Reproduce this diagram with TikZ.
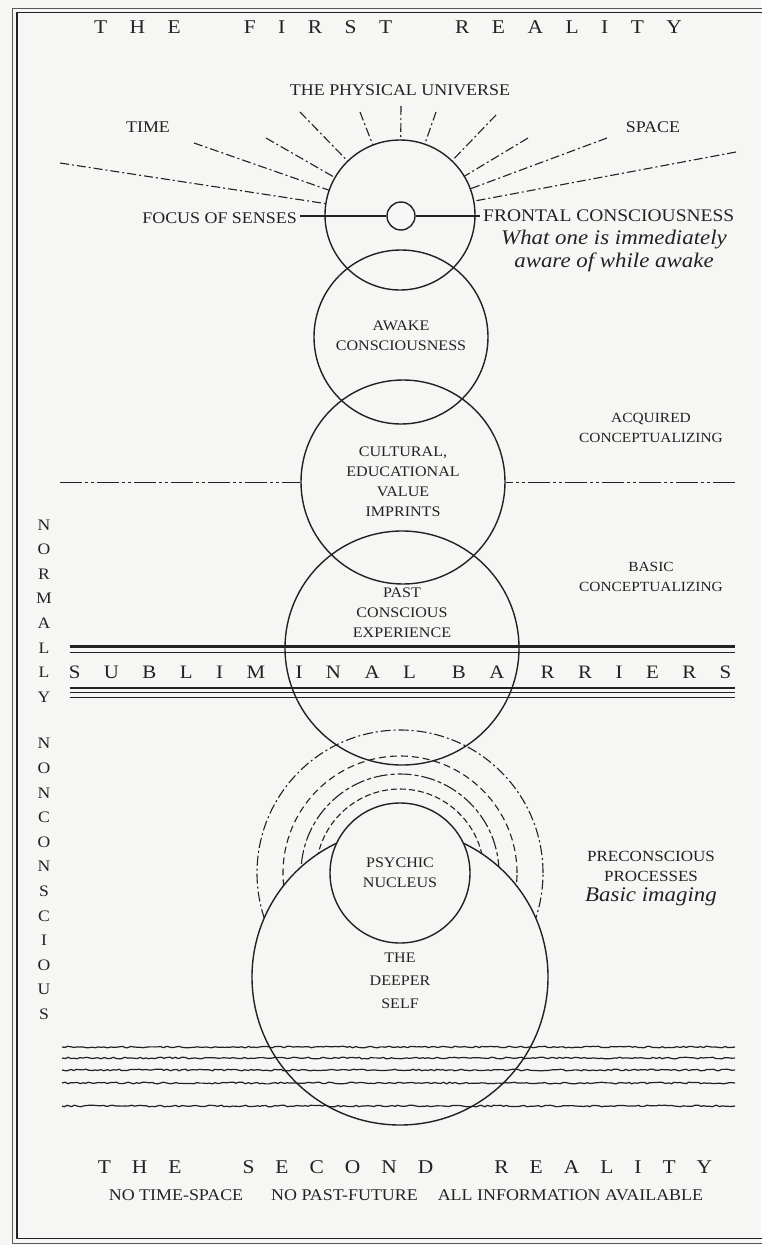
\documentclass[tikz,border=0pt]{standalone}
\usepackage{fontspec}
\setmainfont{Liberation Serif}[FakeStretch=1.1]
\usetikzlibrary{calc,decorations.pathmorphing}
\definecolor{ink}{HTML}{222222}
\definecolor{paper}{HTML}{F6F6F4}
\newcommand\lsg{\hspace{22.5pt}}
\newcommand\lsG{\hspace{63pt}}
\newcommand\lsh{\hspace{21pt}}
\newcommand\lsH{\hspace{61pt}}
\newcommand\lsb{\hspace{23.5pt}}
\newcommand\lsB{\hspace{36pt}}
\begin{document}
\begin{tikzpicture}[x=1pt,y=-1pt,line join=round,
  every node/.style={text=ink, inner sep=0pt},
  circ/.style={circle, draw=ink, line width=1.4pt, inner sep=0pt},
  ray/.style={draw=ink, line width=1.1pt, dash pattern=on 9pt off 3pt on 2pt off 3pt},
  hdash/.style={draw=ink, line width=1.0pt, dash pattern=on 22pt off 3pt on 3pt off 3pt on 3pt off 3pt},
  solidln/.style={draw=ink, line width=1.3pt},
  wavy/.style={draw=ink, line width=1.2pt, decorate, decoration={random steps, segment length=3pt, amplitude=0.85pt}},
  ttl/.style={font=\fontsize{19.5}{21}\selectfont},
  toplbl/.style={font=\fontsize{16.3}{19}\selectfont, align=center},
  inlbl/.style={font=\fontsize{14.6}{20}\selectfont, align=center},
  rlbl/.style={font=\fontsize{14}{20}\selectfont, align=center},
  itl/.style={font=\fontsize{20.8}{23}\selectfont\itshape, align=center},
  sub/.style={font=\fontsize{19}{21}\selectfont},
  vert/.style={font=\fontsize{16}{24.6}\selectfont, align=center}
]
\useasboundingbox (0,0) rectangle (761,1245);
\fill[paper] (0,0) rectangle (761,1245);
% frame
\draw[ink!75, line width=0.9pt] (12,8) rectangle (790,1243);
\draw[ink, line width=1.5pt] (17,12.5) rectangle (785,1238.5);

% titles
\node[ttl] (t1) at (388,27) {T\lsg H\lsg E\lsG F\lsg I\lsg R\lsg S\lsg T\lsG R\lsg E\lsg A\lsg L\lsg I\lsg T\lsg Y};
\node[toplbl] (phys) at (400,90) {THE PHYSICAL UNIVERSE};
\node[toplbl] (time) at (148,127) {TIME};
\node[toplbl] (space) at (653,127) {SPACE};

% top circle and rays
\node[circ, minimum size=150pt] (top) at (400,215) {};
\foreach \sx/\sy in {60/163, 194/143, 266/138, 300/112, 360/112, 401/106, 436/112, 496/115, 528/138, 607/138, 736/152}
  \draw[ray] (\sx,\sy) -- ($(top)!75pt!(\sx,\sy)$);

\node[toplbl, anchor=east] (focus) at (297,218) {FOCUS OF SENSES};
\node[toplbl, font=\fontsize{17.7}{19}\selectfont, anchor=west] (front) at (483,216) {FRONTAL CONSCIOUSNESS};
\node[itl] (what) at (614,251) {What one is immediately\\aware of while awake};
\node[circ, fill=paper, minimum size=28pt] (sc) at (401,216) {};
\draw[solidln] (focus.east |- sc.west) ++(3,0) -- (sc.west);
\draw[solidln] (sc.east) -- ($(front.west |- sc.east)+(-3,0)$);

% stacked circles
\node[circ, minimum size=174pt] (awake) at (401,337) {};
\node[inlbl] (awaket) at (401,336) {AWAKE\\CONSCIOUSNESS};
\node[circ, minimum size=204pt] (cult) at (403,482) {};
\node[inlbl] (cultt) at (403,482) {CULTURAL,\\EDUCATIONAL\\VALUE\\IMPRINTS};
\coordinate (hl) at (60,482);
\coordinate (hr) at (735,482);
\draw[hdash] (hl) -- (cult.west);
\draw[hdash] (hr) -- (cult.east);
\node[rlbl] (acq) at (651,428) {ACQUIRED\\CONCEPTUALIZING};

% subliminal barriers
\draw[ink, line width=2.2pt] (70,646.5) -- (735,646.5);
\draw[ink, line width=0.9pt] (70,652) -- (735,652);
\draw[ink, line width=1.2pt] (70,688) -- (735,688);
\draw[ink, line width=1.8pt] (70,692.5) -- (735,692.5);
\draw[ink, line width=1.2pt] (70,697.5) -- (735,697.5);
\node[sub] (sb1) at (167,672) {S\lsb U\lsb B\lsb L\lsb I\lsb M};
\node[sub] (sb2) at (400,672) {I\lsb N\lsb A\lsb L\lsB B\lsb A};
\node[sub] (sb3) at (636,672) {R\lsb R\lsb I\lsb E\lsb R\lsb S};

\node[circ, minimum size=234pt] (past) at (402,648) {};
\node[inlbl] (pastt) at (402,613) {PAST\\CONSCIOUS\\EXPERIENCE};
\node[rlbl] (basic) at (651,577) {BASIC\\CONCEPTUALIZING};

% dashed arcs around psychic nucleus
\coordinate (pc) at (400,873);
\draw[ink, line width=1.1pt, dash pattern=on 10pt off 3pt on 2pt off 3pt] (pc) circle[radius=143pt];
\draw[ink, line width=1.1pt, dash pattern=on 7pt off 4pt] (pc) circle[radius=117pt];
\draw[ink, line width=1.1pt, dash pattern=on 14pt off 3pt on 4pt off 3pt] (pc) circle[radius=99pt];
\draw[ink, line width=1.1pt, dash pattern=on 6pt off 3pt] (pc) circle[radius=84pt];

\node[circ, fill=paper, minimum size=296pt] (deep) at (400,977) {};
\node[circ, fill=paper, minimum size=140pt] (psy) at (pc) {};
\node[inlbl] (psyt) at (400,873) {PSYCHIC\\NUCLEUS};
\node[inlbl, font=\fontsize{14.6}{23}\selectfont] (deept) at (400,981) {THE\\DEEPER\\SELF};
\node[rlbl, font=\fontsize{15.5}{20}\selectfont] (pre) at (651,866) {PRECONSCIOUS\\PROCESSES};
\node[itl] (img) at (651,897) {Basic imaging};

% wavy lines
\foreach \yy in {1047,1058,1070,1083,1106}
  \draw[wavy] (62,\yy) -- (735,\yy);

% left vertical
\node[vert] (norm) at (44,611) {N\\O\\R\\M\\A\\L\\L\\Y};
\node[vert] (nonc) at (44,879) {N\\O\\N\\C\\O\\N\\S\\C\\I\\O\\U\\S};

% bottom
\node[ttl] (t2) at (405,1167) {T\lsh H\lsh E\lsH S\lsh E\lsh C\lsh O\lsh N\lsh D\lsH R\lsh E\lsh A\lsh L\lsh I\lsh T\lsh Y};
\node[toplbl] (nts) at (406,1195) {NO TIME-SPACE\hspace{28pt}NO PAST-FUTURE\hspace{20pt}ALL INFORMATION AVAILABLE};
\end{tikzpicture}
\end{document}
